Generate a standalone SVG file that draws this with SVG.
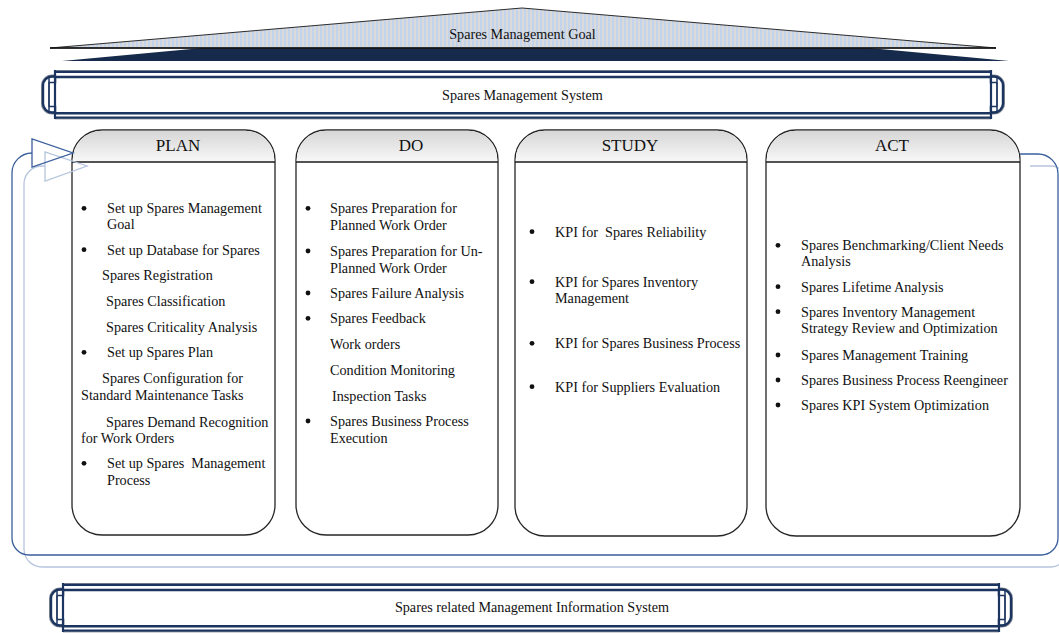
<svg xmlns="http://www.w3.org/2000/svg" xmlns:xlink="http://www.w3.org/1999/xlink" width="1059" height="633" viewBox="0 0 1059 633">
  <style>
    .t { font-family: "Liberation Serif", "Times New Roman", serif; font-size: 14.2px; fill: #111; }
    .h { font-family: "Liberation Serif", "Times New Roman", serif; font-size: 17px; fill: #111; text-anchor: middle; }
    .c { text-anchor: middle; }
    .card { fill: #fff; stroke: #262626; stroke-width: 1.3; }
    .head { fill: url(#headFill); stroke: none; }
    .rule { stroke: #1a1a1a; stroke-width: 1.3; }
    .dot { fill: #111; }
    .loopDark { fill: none; stroke: #3a5f9c; stroke-width: 1.3; }
    .loopLight { fill: none; stroke: #b6c5de; stroke-width: 1.3; }
  </style>
  <defs>
    <pattern id="stripes" patternUnits="userSpaceOnUse" width="4" height="4">
      <rect x="0" y="0" width="2" height="4" fill="#c3d3ec"/>
      <rect x="2" y="0" width="2" height="4" fill="#dadada"/>
    </pattern>
    <linearGradient id="headFill" x1="0" y1="0" x2="0" y2="1">
      <stop offset="0" stop-color="#d6d6d6"/>
      <stop offset="1" stop-color="#f8f8f8"/>
    </linearGradient>
    <!-- bracket end cap of a banner, drawn at the left end -->
    <g id="cap">
      <path d="M1,6.5 H-3 A9 9 0 0 0 -12,15.5 V33.5 A9 9 0 0 0 -3,42.5 H1" fill="#fff" stroke="#8a8f99" stroke-width="4"/>
      <path d="M1,6.5 H-3 A9 9 0 0 0 -12,15.5 V33.5 A9 9 0 0 0 -3,42.5 H1" fill="#fff" stroke="#1c3560" stroke-width="2.4"/>
      <line x1="-6" y1="12.5" x2="-6" y2="36.5" stroke="#1c3560" stroke-width="1.8"/>
      <rect x="-6" y="6.5" width="6.5" height="6" fill="none" stroke="#1c3560" stroke-width="1.5"/>
      <rect x="-6" y="36.5" width="6.5" height="6" fill="none" stroke="#1c3560" stroke-width="1.5"/>
      <line x1="0" y1="0" x2="0" y2="49" stroke="#1c3560" stroke-width="2.2"/>
    </g>
    <!-- double-bordered banner, 936 wide and 49 high -->
    <g id="banner">
      <rect x="0" y="0" width="936" height="49" fill="#fff"/>
      <line x1="0" y1="0.5" x2="936" y2="0.5" stroke="#8a8f99" stroke-width="1"/>
      <line x1="0" y1="1.9" x2="936" y2="1.9" stroke="#1c3560" stroke-width="2.4"/>
      <line x1="0" y1="7" x2="936" y2="7" stroke="#1c3560" stroke-width="2.4"/>
      <line x1="0" y1="43.3" x2="936" y2="43.3" stroke="#1c3560" stroke-width="2.4"/>
      <line x1="0" y1="47.8" x2="936" y2="47.8" stroke="#1c3560" stroke-width="2.4"/>
      <line x1="0" y1="49" x2="936" y2="49" stroke="#8a8f99" stroke-width="0.8"/>
      <use xlink:href="#cap"/>
      <use xlink:href="#cap" transform="translate(936,0) scale(-1,1)"/>
    </g>
  </defs>

  <rect x="0" y="0" width="1059" height="633" fill="#fff"/>

  <!-- goal roof -->
  <g id="goal">
    <polygon points="62,61 535,17 1009,61" fill="#162a4b"/>
    <polygon points="50,48 522,8 996,48" fill="url(#stripes)" stroke="#2b2b2b" stroke-width="1"/>
    <line x1="50" y1="48" x2="996" y2="48" stroke="#111" stroke-width="1.4"/>
    <text class="t c" x="522.5" y="39">Spares Management Goal</text>
  </g>

  <!-- system banner -->
  <g id="system">
    <use xlink:href="#banner" transform="translate(55,70)"/>
    <text class="t c" x="522.5" y="100">Spares Management System</text>
  </g>

  <!-- PLAN -->
  <g id="plan">
    <path class="card" d="M72,160 A30 30 0 0 1 102,130 H245 A30 30 0 0 1 275,160 V505 A30 30 0 0 1 245,535 H102 A30 30 0 0 1 72,505 Z"/>
    <path class="head" d="M72.7,162 V160 A29.3 29.3 0 0 1 102,130.7 H245 A29.3 29.3 0 0 1 274.3,160 V162 Z"/>
    <line class="rule" x1="72" y1="162" x2="275" y2="162"/>
    <text class="h" x="178" y="151">PLAN</text>
    <circle class="dot" cx="84" cy="208.3" r="2.4"/>
    <circle class="dot" cx="84" cy="249.7" r="2.4"/>
    <circle class="dot" cx="84" cy="352.3" r="2.4"/>
    <circle class="dot" cx="84" cy="463.3" r="2.4"/>
    <text class="t" x="107" y="213.3">Set up Spares Management</text>
    <text class="t" x="107" y="229">Goal</text>
    <text class="t" x="107" y="254.7">Set up Database for Spares</text>
    <text class="t" x="102" y="280">Spares Registration</text>
    <text class="t" x="106" y="306">Spares Classification</text>
    <text class="t" x="106" y="332">Spares Criticality Analysis</text>
    <text class="t" x="107" y="357.3">Set up Spares Plan</text>
    <text class="t" x="102" y="383.3">Spares Configuration for</text>
    <text class="t" x="81" y="400">Standard Maintenance Tasks</text>
    <text class="t" x="106" y="426.7">Spares Demand Recognition</text>
    <text class="t" x="81" y="443.3">for Work Orders</text>
    <text class="t" x="107" y="468.3" xml:space="preserve">Set up Spares  Management</text>
    <text class="t" x="107" y="485">Process</text>
  </g>

  <!-- DO -->
  <g id="do">
    <path class="card" d="M296,160 A30 30 0 0 1 326,130 H468 A30 30 0 0 1 498,160 V505 A30 30 0 0 1 468,535 H326 A30 30 0 0 1 296,505 Z"/>
    <path class="head" d="M296.7,162 V160 A29.3 29.3 0 0 1 326,130.7 H468 A29.3 29.3 0 0 1 497.3,160 V162 Z"/>
    <line class="rule" x1="296" y1="162" x2="498" y2="162"/>
    <text class="h" x="411" y="151">DO</text>
    <circle class="dot" cx="308" cy="208.3" r="2.4"/>
    <circle class="dot" cx="308" cy="251" r="2.4"/>
    <circle class="dot" cx="308" cy="293" r="2.4"/>
    <circle class="dot" cx="308" cy="318.3" r="2.4"/>
    <circle class="dot" cx="308" cy="421" r="2.4"/>
    <text class="t" x="330" y="213.3">Spares Preparation for</text>
    <text class="t" x="330" y="230">Planned Work Order</text>
    <text class="t" x="330" y="256">Spares Preparation for Un-</text>
    <text class="t" x="330" y="272.7">Planned Work Order</text>
    <text class="t" x="330" y="298">Spares Failure Analysis</text>
    <text class="t" x="330" y="323.3">Spares Feedback</text>
    <text class="t" x="330" y="349.3">Work orders</text>
    <text class="t" x="330" y="375">Condition Monitoring</text>
    <text class="t" x="332" y="400.5">Inspection Tasks</text>
    <text class="t" x="330" y="426">Spares Business Process</text>
    <text class="t" x="330" y="443.3">Execution</text>
  </g>

  <!-- STUDY -->
  <g id="study">
    <path class="card" d="M515,160 A30 30 0 0 1 545,130 H717 A30 30 0 0 1 747,160 V506 A30 30 0 0 1 717,536 H545 A30 30 0 0 1 515,506 Z"/>
    <path class="head" d="M515.7,162 V160 A29.3 29.3 0 0 1 545,130.7 H717 A29.3 29.3 0 0 1 746.3,160 V162 Z"/>
    <line class="rule" x1="515" y1="162" x2="747" y2="162"/>
    <text class="h" x="630" y="151">STUDY</text>
    <circle class="dot" cx="532" cy="231.7" r="2.4"/>
    <circle class="dot" cx="532" cy="281.7" r="2.4"/>
    <circle class="dot" cx="532" cy="343.3" r="2.4"/>
    <circle class="dot" cx="532" cy="386.7" r="2.4"/>
    <text class="t" x="555" y="236.7" xml:space="preserve">KPI for  Spares Reliability</text>
    <text class="t" x="555" y="286.7">KPI for Spares Inventory</text>
    <text class="t" x="555" y="303.3">Management</text>
    <text class="t" x="555" y="348.3">KPI for Spares Business Process</text>
    <text class="t" x="555" y="391.7">KPI for Suppliers Evaluation</text>
  </g>

  <!-- ACT -->
  <g id="act">
    <path class="card" d="M766,160 A30 30 0 0 1 796,130 H990 A30 30 0 0 1 1020,160 V506 A30 30 0 0 1 990,536 H796 A30 30 0 0 1 766,506 Z"/>
    <path class="head" d="M766.7,162 V160 A29.3 29.3 0 0 1 796,130.7 H990 A29.3 29.3 0 0 1 1019.3,160 V162 Z"/>
    <line class="rule" x1="766" y1="162" x2="1020" y2="162"/>
    <text class="h" x="892" y="151">ACT</text>
    <circle class="dot" cx="778" cy="245.3" r="2.4"/>
    <circle class="dot" cx="778" cy="286.7" r="2.4"/>
    <circle class="dot" cx="778" cy="311.7" r="2.4"/>
    <circle class="dot" cx="778" cy="355" r="2.4"/>
    <circle class="dot" cx="778" cy="380" r="2.4"/>
    <circle class="dot" cx="778" cy="405" r="2.4"/>
    <text class="t" x="801" y="250.3">Spares Benchmarking/Client Needs</text>
    <text class="t" x="801" y="266">Analysis</text>
    <text class="t" x="801" y="291.7">Spares Lifetime Analysis</text>
    <text class="t" x="801" y="316.7">Spares Inventory Management</text>
    <text class="t" x="801" y="333.3">Strategy Review and Optimization</text>
    <text class="t" x="801" y="360">Spares Management Training</text>
    <text class="t" x="801" y="385">Spares Business Process Reengineer</text>
    <text class="t" x="801" y="410">Spares KPI System Optimization</text>
  </g>

  <!-- improvement cycle loops running back into PLAN -->
  <g id="connectors">
    <path class="loopLight" d="M1030,166 H1051 A15 15 0 0 1 1066,181 V552 A15 15 0 0 1 1051,567 H42 A18 18 0 0 1 24,549 V184 A18 18 0 0 1 42,166 H45"/>
    <polygon class="loopLight" points="45,152 45,181 87,166"/>
    <path class="loopDark" d="M1020,154 H1038 A20 20 0 0 1 1058,174 V538 A17 17 0 0 1 1041,555 H29 A17 17 0 0 1 12,538 V173 A20 20 0 0 1 32,153"/>
    <polygon class="loopDark" points="32,139 32,167 73,153"/>
  </g>

  <!-- information system banner -->
  <g id="mis">
    <use xlink:href="#banner" transform="translate(63,583)"/>
    <text class="t c" x="532" y="612">Spares related Management Information System</text>
  </g>
</svg>
